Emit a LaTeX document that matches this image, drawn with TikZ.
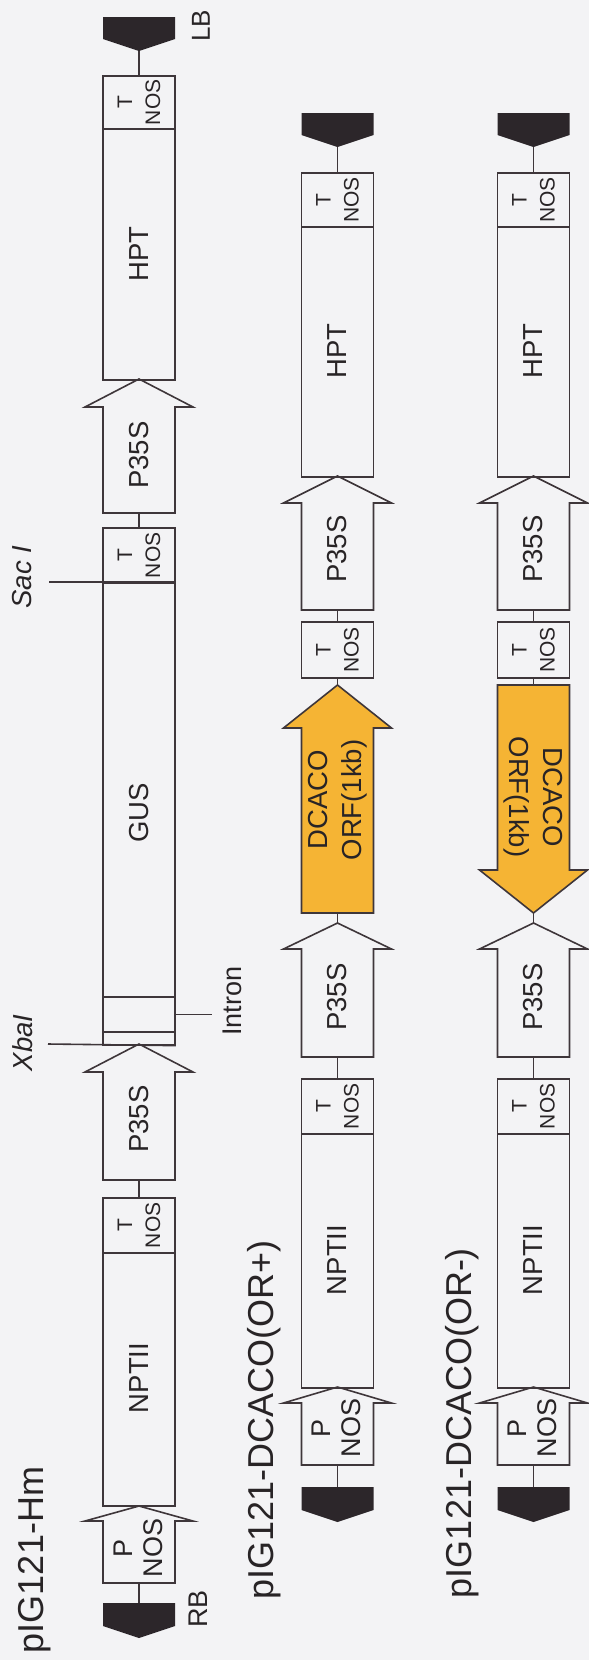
\documentclass[tikz,border=0pt]{standalone}
\usepackage{fontspec}
\setmainfont{Liberation Sans}
\definecolor{ink}{RGB}{62,54,58}
\definecolor{txt}{RGB}{40,36,38}
\definecolor{bord}{RGB}{44,38,42}
\definecolor{orf}{RGB}{245,180,52}
\definecolor{paper}{RGB}{243,243,245}
% box: name, cx, ytop, ybottom
\newcommand\gb[4]{\pgfmathsetmacro\gbh{#4-#3}\node[gbox, minimum height=\gbh pt] (#1) at (#2,#3) {};}
% up arrow: name, cx, tip, shoulder, tail, style
\newcommand\ua[6]{%
  \draw[#6] (#2-36,#5) -- (#2-36,#4) -- (#2-54,#4) -- (#2,#3) -- (#2+54,#4) -- (#2+36,#4) -- (#2+36,#5) -- cycle;
  \coordinate (#1-tip) at (#2,#3); \coordinate (#1-tail) at (#2,#5);}
% down arrow: name, cx, top, shoulder, tip, style
\newcommand\da[6]{%
  \draw[#6] (#2-36,#3) -- (#2+36,#3) -- (#2+36,#4) -- (#2+54,#4) -- (#2,#5) -- (#2-54,#4) -- (#2-36,#4) -- cycle;
  \coordinate (#1-top) at (#2,#3); \coordinate (#1-tip) at (#2,#5);}
% border pentagon: name, cx, top, point
\newcommand\pe[4]{%
  \fill[bord] (#2-36,#3) -- (#2+36,#3) -- (#2+36,#4-12) -- (#2,#4) -- (#2-36,#4-12) -- cycle;
  \coordinate (#1-top) at (#2,#3); \coordinate (#1-pt) at (#2,#4);}
% label: name, x, y, text, extra style
\newcommand\lb[5]{\node[lbl, rotate=90, #5] (#1) at (#2,#3) {#4};}
% T NOS label in a box
\newcommand\tn[2]{\node[tlbl, rotate=90] (#1) at (#2.center) {T\\NOS};}
% common part of the two lower rows: prefix, cx
\newcommand\commonrow[2]{%
  \pe{#1lb}{#2}{113}{147}
  \gb{#1t1}{#2}{172}{226}
  \gb{#1hpt}{#2}{226}{476}
  \ua{#1p1}{#2}{476}{503}{610}{garrow}
  \gb{#1t2}{#2}{621}{677}
  \ua{#1p2}{#2}{923}{949}{1057}{garrow}
  \gb{#1t3}{#2}{1078}{1133}
  \gb{#1npt}{#2}{1133}{1387}
  \ua{#1pn}{#2}{1387}{1403}{1465}{garrow}
  \pe{#1rb}{#2}{1487}{1522}
  \draw[conn] (#1lb-pt) -- (#1t1.north);
  \draw[conn] (#1p1-tail) -- (#1t2.north);
  \draw[conn] (#1p2-tail) -- (#1t3.north);
  \draw[conn] (#1pn-tail) -- (#1rb-top);
  \tn{#1t1l}{#1t1}
  \tn{#1t2l}{#1t2}
  \tn{#1t3l}{#1t3}
  \lb{#1hptl}{#2}{351}{HPT}{}
  \lb{#1p1l}{#2}{549}{P35S}{}
  \lb{#1p2l}{#2}{997}{P35S}{}
  \lb{#1nptl}{#2}{1260}{NPTII}{}
  \lb{#1pnl}{#2-1}{1428}{P\\NOS}{align=center, font=\fontsize{27}{30}\selectfont}
}
\begin{document}
\begin{tikzpicture}[x=1pt,y=-1pt,
  gbox/.style={draw=ink, line width=1.6pt, minimum width=72pt, inner sep=0pt, anchor=north},
  garrow/.style={draw=ink, line width=1.6pt, line join=miter},
  oarrow/.style={garrow, fill=orf},
  conn/.style={draw=ink, line width=1.6pt},
  lbl/.style={inner sep=0pt, text=txt, font=\fontsize{27.5}{30}\selectfont},
  tlbl/.style={inner sep=0pt, text=txt, align=center, font=\fontsize{21}{28}\selectfont},
  title/.style={lbl, font=\fontsize{36}{40}\selectfont},
  site/.style={font=\itshape\fontsize{27.5}{30}\selectfont}
]
\useasboundingbox (0,0) rectangle (589,1660);
\fill[paper] (0,0) rectangle (589,1660);

% ---------- row 1 : pIG121-Hm ----------
\pe{r1lb}{139}{17}{51}
\gb{r1t1}{139}{75}{128}
\gb{r1hpt}{139}{128}{379}
\ua{r1p1}{139}{379}{407}{513}{garrow}
\gb{r1t2}{139}{527}{582}
\gb{r1gus}{139}{582}{996}
\gb{r1in1}{139}{996}{1031}
\gb{r1in2}{139}{1031}{1044}
\ua{r1p2}{139}{1044}{1072}{1180}{garrow}
\gb{r1t3}{139}{1197}{1252}
\gb{r1npt}{139}{1252}{1505}
\ua{r1pn}{139}{1506}{1521}{1583}{garrow}
\pe{r1rb}{139}{1603}{1638}
\draw[conn] (r1lb-pt) -- (r1t1.north);
\draw[conn] (r1p1-tail) -- (r1t2.north);
\draw[conn] (r1p2-tail) -- (r1t3.north);
\draw[conn] (r1pn-tail) -- (r1rb-top);
\coordinate (sacend) at (49,582);
\coordinate (xbaend) at (48,1044);
\draw[conn] (r1gus.north east) -- (sacend);
\draw[conn] (r1in2.south east) -- (xbaend);
\draw[conn] (r1in1.east) -- ++(36,0) coordinate (intronend);
\tn{r1t1l}{r1t1}
\tn{r1t2l}{r1t2}
\tn{r1t3l}{r1t3}
\lb{r1hptl}{139}{254}{HPT}{}
\lb{r1p1l}{139}{455}{P35S}{}
\lb{r1gusl}{139}{813}{GUS}{}
\lb{r1p2l}{139}{1119}{P35S}{}
\lb{r1nptl}{139}{1378}{NPTII}{}
\lb{r1pnl}{138}{1548}{P\\NOS}{align=center, font=\fontsize{27}{30}\selectfont}
\lb{lbl1}{201}{26}{LB}{font=\fontsize{26}{30}\selectfont}
\lb{rbl1}{198}{1609}{RB}{font=\fontsize{27}{30}\selectfont}
\lb{sacl}{22}{577}{Sac I}{site}
\lb{xbal}{23}{1043}{XbaI}{site}
\lb{intronl}{232}{1001}{Intron}{font=\fontsize{27}{30}\selectfont}
\lb{title1}{35}{1560}{pIG121-Hm}{title}

% ---------- row 2 : pIG121-DCACO(OR+) ----------
\commonrow{r2}{337.5}
\ua{r2orf}{337.5}{685}{728}{913}{oarrow}
\draw[conn] (r2t2.south) -- (r2orf-tip);
\draw[conn] (r2orf-tail) -- (r2p2-tip);
\lb{r2orfl}{338}{800}{DCACO\\ORF(1kb)}{align=center, font=\fontsize{27.5}{34}\selectfont}
\lb{title2}{264}{1420}{pIG121-DCACO(OR+)}{title}

% ---------- row 3 : pIG121-DCACO(OR-) ----------
\commonrow{r3}{533.5}
\da{r3orf}{533.5}{685}{870}{913}{oarrow}
\draw[conn] (r3t2.south) -- (r3orf-top);
\draw[conn] (r3orf-tip) -- (r3p2-tip);
\node[lbl, rotate=-90, align=center, font=\fontsize{27.5}{34}\selectfont] (r3orfl) at (533,797) {DCACO\\ORF(1kb)};
\lb{title3}{462}{1423}{pIG121-DCACO(OR-)}{title}
\end{tikzpicture}
\end{document}
